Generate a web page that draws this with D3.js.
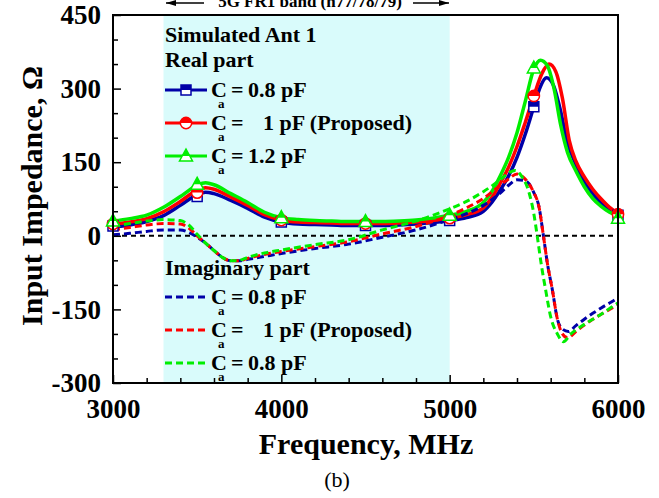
<!DOCTYPE html>
<html>
<head>
<meta charset="utf-8">
<script src="https://cdn.jsdelivr.net/npm/d3@7"></script>
<style>
  body { margin: 0; background: #fff; }
  svg text { font-family: "Liberation Serif", "Times New Roman", serif; white-space: pre; }
</style>
</head>
<body>
<svg id="chart" width="659" height="498"></svg>
<script>
// Real part (solid lines), [frequency MHz, ohm]
const realBlue = [[3000,18],[3100,22],[3200,29],[3300,41],[3400,62],[3500,84],[3550,89],[3600,86],[3700,72],[3800,56],[3900,38],[4000,28],[4100,24],[4200,23],[4300,22],[4400,21],[4500,21],[4600,21],[4700,22],[4800,24],[4900,27],[5000,31],[5100,37],[5200,50],[5250,68],[5300,93],[5350,122],[5400,160],[5450,208],[5500,263],[5540,305],[5575,322],[5615,308],[5655,260],[5700,190],[5750,145],[5800,110],[5850,86],[5900,67],[5950,54],[6000,44]];
const realRed = [[3000,24],[3100,28],[3200,35],[3300,49],[3400,70],[3500,93],[3550,98],[3600,95],[3700,79],[3800,62],[3900,43],[4000,32],[4100,28],[4200,27],[4300,26],[4400,25],[4500,25],[4600,25],[4700,26],[4800,28],[4900,31],[5000,36],[5100,43],[5200,57],[5250,78],[5300,107],[5350,140],[5400,182],[5450,232],[5500,285],[5550,332],[5590,350],[5630,335],[5670,280],[5710,195],[5750,152],[5800,120],[5850,95],[5900,75],[5950,58],[6000,46]];
const realGreen = [[3000,30],[3100,35],[3200,42],[3300,58],[3400,80],[3500,103],[3550,108],[3600,104],[3700,86],[3800,68],[3900,48],[4000,37],[4100,33],[4200,31],[4300,30],[4400,29],[4500,29],[4600,29],[4700,30],[4800,32],[4900,36],[5000,42],[5100,50],[5200,68],[5250,90],[5300,122],[5350,160],[5400,210],[5450,275],[5500,340],[5540,358],[5580,347],[5620,300],[5660,225],[5700,170],[5750,132],[5800,100],[5850,76],[5900,60],[5950,48],[6000,40]];

// Imaginary part (dashed lines)
const imagBlue = [[3000,2],[3100,5],[3200,9],[3300,12],[3400,12],[3450,7],[3500,-3],[3550,-15],[3600,-30],[3650,-44],[3700,-51],[3750,-51],[3800,-48],[3900,-42],[4000,-36],[4200,-26],[4400,-17],[4600,-3],[4800,12],[5000,33],[5100,45],[5200,62],[5300,87],[5350,103],[5400,114],[5450,112],[5500,88],[5530,60],[5557,0],[5580,-55],[5610,-110],[5640,-170],[5670,-190],[5705,-195],[5750,-183],[5800,-170],[5850,-158],[5900,-147],[5950,-137],[6000,-127]];
const imagRed = [[3000,12],[3100,17],[3200,22],[3300,25],[3400,24],[3450,16],[3500,0],[3550,-15],[3600,-30],[3650,-44],[3700,-51],[3750,-51],[3800,-46],[3900,-38],[4000,-32],[4200,-22],[4400,-12],[4600,4],[4800,19],[5000,42],[5100,57],[5200,76],[5300,103],[5350,116],[5400,126],[5450,115],[5500,88],[5530,60],[5557,0],[5580,-55],[5610,-110],[5640,-170],[5670,-200],[5700,-208],[5750,-195],[5800,-182],[5850,-170],[5900,-160],[5950,-150],[6000,-141]];
const imagGreen = [[3000,20],[3100,25],[3200,30],[3300,33],[3400,31],[3450,22],[3500,3],[3550,-15],[3600,-30],[3650,-44],[3700,-51],[3750,-50],[3800,-44],[3900,-35],[4000,-29],[4200,-18],[4400,-8],[4600,12],[4800,30],[5000,55],[5100,70],[5200,90],[5300,114],[5350,128],[5390,133],[5430,120],[5470,90],[5500,45],[5520,0],[5545,-60],[5570,-110],[5600,-165],[5640,-200],[5675,-216],[5720,-200],[5780,-185],[5850,-170],[5900,-160],[5950,-148],[6000,-137]];

// symbols on the real-part curves
const markerFreqs = [3000, 3500, 4000, 4500, 5000, 5500, 6000];
const markerBlue = [20, 80, 28, 21, 31, 263, 42];
const markerRed = [24, 88, 32, 25, 36, 285, 44];
const markerGreen = [30, 105, 37, 29, 42, 342, 36];

const yTickValues = [-300, -150, 0, 150, 300, 450];
const xTickValues = [3000, 4000, 5000, 6000];
const bandRange = [3300, 5000];

const realLegend = [
  { color: '#0000a8', shape: 'square', value: '0.8 pF' },
  { color: '#ff0000', shape: 'circle', value: '1 pF (Proposed)', wide: true },
  { color: '#00ee00', shape: 'triangle', value: '1.2 pF' }
];
const imagLegend = [
  { color: '#0000a8', value: '0.8 pF' },
  { color: '#ff0000', value: '1 pF (Proposed)', wide: true },
  { color: '#00ee00', value: '0.8 pF' }
];

const svg = d3.select('#chart');
const plotLeft = 113, plotRight = 618, plotTop = 15, plotBottom = 383;

const x = d3.scaleLinear().domain([3000, 6000]).range([plotLeft, plotRight]);
const y = d3.scaleLinear().domain([-300, 450]).range([plotBottom, plotTop]);

const defs = svg.append('defs');
defs.append('clipPath').attr('id', 'plot-clip')
  .append('rect').attr('x', plotLeft).attr('y', plotTop)
  .attr('width', plotRight - plotLeft).attr('height', plotBottom - plotTop);
defs.append('clipPath').attr('id', 'top-half')
  .append('rect').attr('x', -10).attr('y', -10).attr('width', 20).attr('height', 10);

// 5G band shading
svg.append('rect')
  .attr('x', x(bandRange[0])).attr('y', plotTop)
  .attr('width', x(bandRange[1]) - x(bandRange[0])).attr('height', plotBottom - plotTop)
  .attr('fill', '#d9fbfb');

// band label above the frame (the figure is cropped through it)
svg.append('text').attr('x', 310).attr('y', 7).attr('text-anchor', 'middle')
  .attr('font-size', 17).attr('font-weight', 'bold').text('5G FR1 band (n77/78/79)');
const arrowHead = defs.append('marker').attr('id', 'arrowhead')
  .attr('viewBox', '0 0 10 6').attr('refX', 10).attr('refY', 3)
  .attr('markerWidth', 10).attr('markerHeight', 6).attr('markerUnits', 'userSpaceOnUse').attr('orient', 'auto');
arrowHead.append('path').attr('d', 'M0,0L10,3L0,6Z').attr('fill', '#000');
svg.append('line').attr('x1', 204).attr('x2', 166).attr('y1', 3).attr('y2', 3)
  .attr('stroke', '#000').attr('stroke-width', 1.5).attr('marker-end', 'url(#arrowhead)');
svg.append('line').attr('x1', 413).attr('x2', 449).attr('y1', 3).attr('y2', 3)
  .attr('stroke', '#000').attr('stroke-width', 1.5).attr('marker-end', 'url(#arrowhead)');

// zero reference
svg.append('line')
  .attr('x1', plotLeft).attr('x2', plotRight).attr('y1', y(0)).attr('y2', y(0))
  .attr('stroke', '#000').attr('stroke-width', 2).attr('stroke-dasharray', '5,4');

const line = d3.line()
  .x(d => x(d[0]))
  .y(d => y(d[1]))
  .curve(d3.curveMonotoneX);

const plot = svg.append('g').attr('clip-path', 'url(#plot-clip)');

function drawMarker(g, shape, color) {
  let path;
  if (shape === 'square') path = 'M-5,-5H5V5H-5Z';
  else if (shape === 'circle') path = d3.symbol(d3.symbolCircle, 100)();
  else path = 'M0,-7L6.5,5H-6.5Z';
  g.append('path').attr('d', path).attr('fill', '#fff').attr('stroke', color).attr('stroke-width', 1.5);
  g.append('path').attr('d', path).attr('fill', color).attr('clip-path', 'url(#top-half)');
}

const realSeries = [
  { data: realBlue, markers: markerBlue, color: '#0000a8', shape: 'square' },
  { data: realRed, markers: markerRed, color: '#ff0000', shape: 'circle' },
  { data: realGreen, markers: markerGreen, color: '#00ee00', shape: 'triangle' }
];
realSeries.forEach(s => {
  plot.append('path').datum(s.data)
    .attr('d', line).attr('fill', 'none')
    .attr('stroke', s.color).attr('stroke-width', 3.5);
});
realSeries.forEach(s => {
  markerFreqs.forEach((f, i) => {
    const g = svg.append('g').attr('transform', `translate(${x(f)},${y(s.markers[i])})`);
    drawMarker(g, s.shape, s.color);
  });
});

const imagSeries = [
  { data: imagBlue, color: '#0000a8' },
  { data: imagRed, color: '#ff0000' },
  { data: imagGreen, color: '#00ee00' }
];
imagSeries.forEach(s => {
  plot.append('path').datum(s.data)
    .attr('d', line).attr('fill', 'none')
    .attr('stroke', s.color).attr('stroke-width', 3)
    .attr('stroke-dasharray', '7,4');
});

// axes with inward ticks; plain hyphen for negatives as in the figure
const plainFormat = d => String(d);
const xAxis = svg.append('g').attr('transform', `translate(0,${plotBottom})`)
  .call(d3.axisBottom(x).tickValues(xTickValues).tickSize(-8).tickPadding(16).tickFormat(plainFormat));
svg.append('g').attr('transform', `translate(0,${plotBottom})`)
  .call(d3.axisBottom(x).tickValues(d3.range(3200, 6000, 200).filter(v => v % 1000)).tickSize(-5).tickFormat(''))
  .call(g => g.select('.domain').remove());
const yAxis = svg.append('g').attr('transform', `translate(${plotLeft},0)`)
  .call(d3.axisLeft(y).tickValues(yTickValues).tickSize(-8).tickPadding(12).tickFormat(plainFormat));
svg.append('g').attr('transform', `translate(${plotLeft},0)`)
  .call(d3.axisLeft(y).tickValues(d3.range(-250, 450, 50).filter(v => v % 150)).tickSize(-5).tickFormat(''))
  .call(g => g.select('.domain').remove());

svg.selectAll('.tick line').attr('stroke', '#000').attr('stroke-width', 1.5);
[xAxis, yAxis].forEach(a => {
  a.selectAll('text').attr('font-size', 27).attr('font-weight', 'bold').attr('fill', '#000')
    .attr('font-family', '"Liberation Serif", "Times New Roman", serif');
  a.select('.domain').remove();
});

// frame
svg.append('rect').attr('x', plotLeft).attr('y', plotTop)
  .attr('width', plotRight - plotLeft).attr('height', plotBottom - plotTop)
  .attr('fill', 'none').attr('stroke', '#000').attr('stroke-width', 2);

// axis titles
svg.append('text').attr('x', 366).attr('y', 454).attr('text-anchor', 'middle')
  .attr('font-size', 30).attr('font-weight', 'bold').text('Frequency, MHz');
svg.append('text').attr('transform', 'translate(42,196) rotate(-90)').attr('text-anchor', 'middle')
  .attr('font-size', 30).attr('font-weight', 'bold').text('Input Impedance, \u03A9');
svg.append('text').attr('x', 337).attr('y', 487).attr('text-anchor', 'middle')
  .attr('font-size', 22).text('(b)');

// legend
const legend = svg.append('g').attr('font-weight', 'bold').attr('font-size', 22);
legend.append('text').attr('x', 165).attr('y', 42).text('Simulated Ant 1');
legend.append('text').attr('x', 165).attr('y', 67).text('Real part');
legend.append('text').attr('x', 165).attr('y', 275).text('Imaginary part');

function legendRow(item, rowY, dashed) {
  legend.append('line').attr('x1', 165).attr('x2', 207).attr('y1', rowY).attr('y2', rowY)
    .attr('stroke', item.color).attr('stroke-width', 3)
    .attr('stroke-dasharray', dashed ? '7,4' : null);
  if (item.shape) {
    const g = legend.append('g').attr('transform', `translate(186,${rowY})`);
    drawMarker(g, item.shape, item.color);
  }
  legend.append('text').attr('x', 211).attr('y', rowY + 7).text('C');
  legend.append('text').attr('x', 218).attr('y', rowY + 18).attr('font-size', 13).text('a');
  legend.append('text').attr('x', 231).attr('y', rowY + 7).text('=');
  legend.append('text').attr('x', item.wide ? 263 : 248).attr('y', rowY + 7).text(item.value);
}
realLegend.forEach((d, i) => legendRow(d, 90 + i * 33, false));
imagLegend.forEach((d, i) => legendRow(d, 297 + i * 33, true));
</script>
</body>
</html>
